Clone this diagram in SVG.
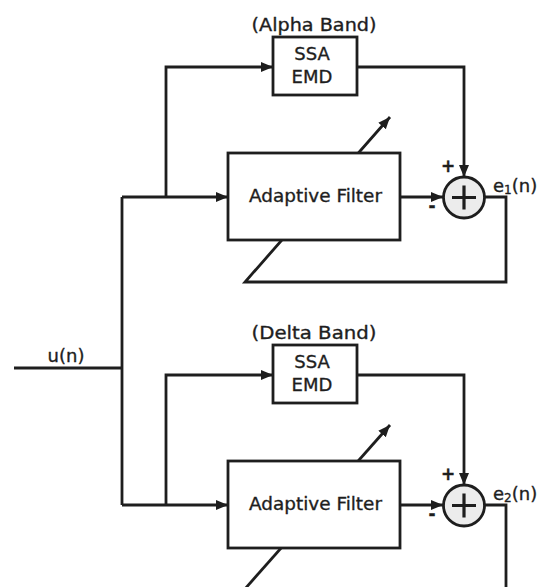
<svg xmlns="http://www.w3.org/2000/svg" width="547" height="587" viewBox="0 0 547 587">
<style>
.ln{fill:none;stroke:#1e1e1e;stroke-width:2.8}
.box{fill:#fff;stroke:#1e1e1e;stroke-width:2.8}
.sum{fill:#ececec;stroke:#1e1e1e;stroke-width:2.8}
.pl{fill:none;stroke:#1e1e1e;stroke-width:3.2}
.t{font-family:"DejaVu Sans",Verdana,sans-serif;font-size:18px;fill:#1e1e1e;stroke:#1e1e1e;stroke-width:0.35}
.m{text-anchor:middle}
.s{font-size:17px;font-weight:bold}
</style>
<defs>
<marker id="ah" markerUnits="userSpaceOnUse" markerWidth="13" markerHeight="11" refX="12" refY="5" orient="auto">
<path d="M0,0 L12,5 L0,10 z" fill="#1e1e1e"/>
</marker>
</defs>
<rect width="547" height="587" fill="#fff"/>
<g id="connectors">
<polyline class="ln" points="14,368 122,368"/>
<polyline class="ln" points="122,197 122,505"/>
<polyline class="ln" points="122,197 228,197" marker-end="url(#ah)"/>
<polyline class="ln" points="166,197 166,67 273,67" marker-end="url(#ah)"/>
<polyline class="ln" points="357,67 464,67 464,177" marker-end="url(#ah)"/>
<polyline class="ln" points="400,197 443,197" marker-end="url(#ah)"/>
<polyline class="ln" points="485,197 506,197 506,282 245,282 390,117" marker-end="url(#ah)"/>
<polyline class="ln" points="122,505 228,505" marker-end="url(#ah)"/>
<polyline class="ln" points="166,505 166,375 273,375" marker-end="url(#ah)"/>
<polyline class="ln" points="357,375 464,375 464,485" marker-end="url(#ah)"/>
<polyline class="ln" points="400,505 443,505" marker-end="url(#ah)"/>
<polyline class="ln" points="485,505 506,505 506,590"/>
<polyline class="ln" points="244,590 390,425" marker-end="url(#ah)"/>
</g>
<g id="ssa1">
<rect class="box" x="273" y="37" width="84" height="58"/>
<text class="t m" x="312" y="60">SSA</text>
<text class="t m" x="312" y="83">EMD</text>
</g>
<text class="t m" x="314" y="31" textLength="125" lengthAdjust="spacingAndGlyphs" font-size="17.5">(Alpha Band)</text>
<g id="af1">
<rect class="box" x="228" y="153" width="172" height="87"/>
<text class="t" x="249" y="202" textLength="133" lengthAdjust="spacingAndGlyphs">Adaptive Filter</text>
</g>
<g id="sum1">
<circle class="sum" cx="464" cy="197.5" r="20.5"/>
<path class="pl" d="M452,197.5 H476 M464,185.5 V209.5"/>
<text class="t s m" x="448" y="172">+</text>
<text class="t s m" x="432" y="212">-</text>
</g>
<text class="t" x="493" y="192">e<tspan font-size="12" dy="2">1</tspan><tspan dy="-2">(n)</tspan></text>
<text class="t m" x="66" y="362">u(n)</text>
<g id="ssa2">
<rect class="box" x="273" y="345" width="84" height="58"/>
<text class="t m" x="312" y="368">SSA</text>
<text class="t m" x="312" y="391">EMD</text>
</g>
<text class="t m" x="314" y="339" textLength="125" lengthAdjust="spacingAndGlyphs" font-size="17.5">(Delta Band)</text>
<g id="af2">
<rect class="box" x="228" y="461" width="172" height="87"/>
<text class="t" x="249" y="510" textLength="133" lengthAdjust="spacingAndGlyphs">Adaptive Filter</text>
</g>
<g id="sum2">
<circle class="sum" cx="464" cy="505.5" r="20.5"/>
<path class="pl" d="M452,505.5 H476 M464,493.5 V517.5"/>
<text class="t s m" x="448" y="480">+</text>
<text class="t s m" x="432" y="520">-</text>
</g>
<text class="t" x="493" y="500">e<tspan font-size="12" dy="2">2</tspan><tspan dy="-2">(n)</tspan></text>
</svg>
